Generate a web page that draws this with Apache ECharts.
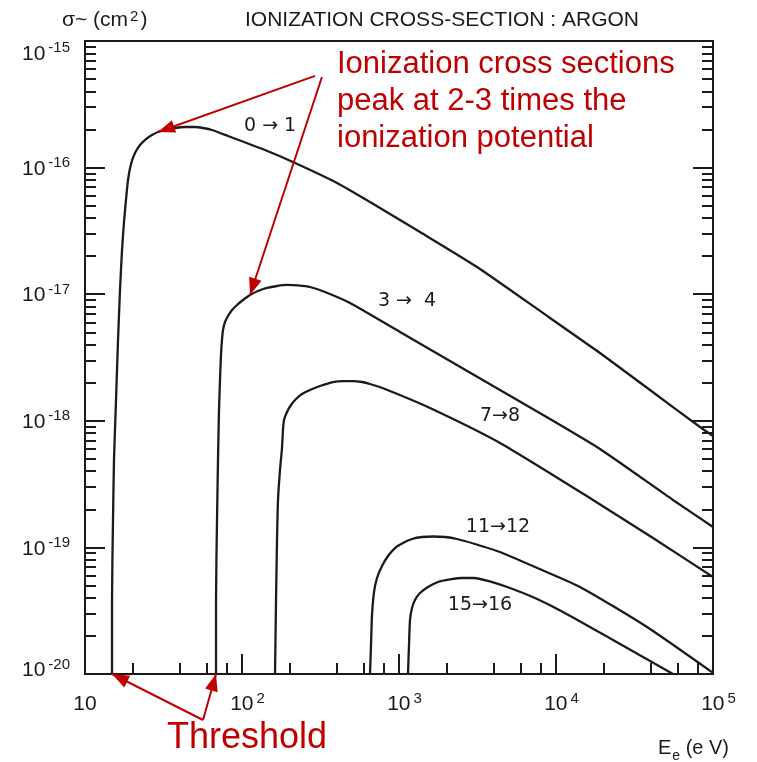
<!DOCTYPE html>
<html>
<head>
<meta charset="utf-8">
<script src="https://cdn.jsdelivr.net/npm/echarts@6/dist/echarts.min.js"></script>
<style>
  html, body { margin: 0; padding: 0; background: #ffffff; }
  #chart { width: 757px; height: 762px; }
</style>
</head>
<body>
<div id="chart"></div>
<script>
// Electron-impact ionization cross sections of argon ions, sigma (cm^2) vs electron energy E_e (eV)

// ---- data ----
const seriesNames = ['0 → 1', '3 →  4', '7→8', '11→12', '15→16'];

const ion0to1 = [
  [14.86, 1.0e-20], [14.86, 3.84e-20], [15.08, 1.65e-19], [15.30, 4.9e-19], [15.76, 1.46e-18],
  [16.23, 4.35e-18], [16.71, 1.08e-17], [17.21, 2.23e-17], [17.72, 3.72e-17], [18.24, 5.55e-17],
  [18.79, 7.98e-17], [19.63, 1.067e-16], [20.82, 1.304e-16], [22.40, 1.509e-16], [24.46, 1.682e-16],
  [26.72, 1.809e-16], [29.17, 1.910e-16], [32.81, 1.982e-16], [37.43, 2.055e-16], [43.35, 2.093e-16],
  [50.19, 2.093e-16], [56.44, 2.055e-16], [64.41, 1.982e-16], [81.4, 1.777e-16], [140, 1.377e-16],
  [211, 1.107e-16], [403, 7.56e-17], [757, 4.80e-17], [1361, 3.10e-17], [3140, 1.64e-17],
  [9160, 6.49e-18], [19070, 3.43e-18], [39700, 1.75e-18], [82640, 8.93e-19], [100000, 7.59e-19]
];

const ion3to4 = [
  [68.31, 1.0e-20], [68.31, 3.84e-20], [69.32, 1.65e-19], [70.33, 4.9e-19], [71.37, 1.217e-18],
  [72.43, 2.10e-18], [73.47, 3.31e-18], [74.57, 4.35e-18], [75.68, 5.22e-18], [77.93, 6.03e-18],
  [81.43, 6.73e-18], [86.4, 7.50e-18], [92.95, 8.22e-18], [101.5, 9.00e-18], [112.5, 9.86e-18],
  [126.5, 1.06e-17], [144.3, 1.12e-17], [167.1, 1.161e-17], [193.5, 1.183e-17], [227.4, 1.172e-17],
  [271.1, 1.14e-17], [337.9, 1.041e-17], [487.5, 8.52e-18], [1015, 5.03e-18], [2113, 2.97e-18],
  [4398, 1.75e-18], [9159, 1.033e-18], [19070, 5.99e-19], [55620, 2.37e-19], [100000, 1.449e-19]
];

const ion7to8 = [
  [162.3, 1.0e-20], [164.7, 3.84e-20], [167.1, 1.144e-19], [169.6, 2.37e-19], [174.6, 4.09e-19],
  [179.8, 6.10e-19], [182.4, 8.46e-19], [185.1, 1.015e-18], [193.5, 1.174e-18], [205.2, 1.333e-18],
  [220.8, 1.487e-18], [241.1, 1.628e-18], [271.1, 1.75e-18], [314, 1.883e-18], [379.8, 2.025e-18],
  [440, 2.06e-18], [509.3, 2.06e-18], [581.1, 2.025e-18], [653.6, 1.953e-18], [814.3, 1.783e-18],
  [1576, 1.262e-18], [4398, 6.68e-19], [17210, 2.37e-19], [41480, 1.186e-19], [100000, 5.84e-20]
];

const ion11to12 = [
  [653.6, 1.0e-20], [663.3, 1.695e-20], [673.1, 2.92e-20], [693.2, 4.44e-20], [724.4, 5.73e-20],
  [779.4, 7.13e-20], [851, 8.55e-20], [943, 9.89e-20], [1060, 1.083e-19], [1210, 1.165e-19],
  [1401, 1.208e-19], [1647, 1.219e-19], [1963, 1.208e-19], [2341, 1.165e-19], [3049, 1.064e-19],
  [4398, 9.2e-20], [7348, 7.0e-20], [14220, 4.87e-20], [37980, 2.35e-20], [100000, 1.02e-20]
];

const ion15to16 = [
  [1141, 1.0e-20], [1158, 1.695e-20], [1175, 2.67e-20], [1210, 3.32e-20], [1264, 3.84e-20],
  [1361, 4.36e-20], [1530, 4.87e-20], [1772, 5.33e-20], [2113, 5.58e-20], [2519, 5.73e-20],
  [3004, 5.73e-20], [3690, 5.43e-20], [5093, 4.78e-20], [7348, 3.98e-20], [11080, 3.09e-20],
  [23080, 1.856e-20], [55620, 1.0e-20]
];

const seriesData = [ion0to1, ion3to4, ion7to8, ion11to12, ion15to16];

// axis ranges and tick values
const xRange = [10, 1e5];
const yRange = [1e-20, 1e-15];
const xMinorTicks = [20, 40, 60, 80, 200, 400, 600, 800, 2000, 4000, 6000, 8000, 20000, 40000, 60000, 80000];
const yDecades = [1e-20, 1e-19, 1e-18, 1e-17, 1e-16];
const yMinorFactors = [2, 3, 4, 5, 6, 7, 8, 9];

// ---- annotation anchors (data units) ----
const curveLabelAt = [[151, 2.13e-16], [1125, 8.84e-18], [4400, 1.09e-18], [4270, 1.45e-19], [3280, 3.5e-20]];
const peakArrowFrom = [[292, 5.3e-16], [323, 5.2e-16]];
const peakArrowTo = [[29.17, 1.91e-16], [112.5, 9.86e-18]];
const thresholdArrowTo = [[ion0to1[0][0], yRange[0]], [ion3to4[0][0], yRange[0]]];

// ---- styles ----
const FONT = 'Liberation Sans';
const LABEL_FONT = 'DejaVu Sans';
const INK = '#1b1b1b';
const RED = '#c00000';

const yMinorTicks = [];
yDecades.forEach(d => yMinorFactors.forEach(f => yMinorTicks.push(+(f * d).toPrecision(3))));

const expOf = v => Math.round(Math.log10(v));
const tickLine = { color: INK, width: 2 };

const numRich = {
  b:  { fontFamily: FONT, fontSize: 21, color: INK, padding: [3, 0, 0, 0] },
  s:  { fontFamily: FONT, fontSize: 15, color: INK, padding: [0, 0, 0, 3], verticalAlign: 'top' },
  bt: { fontFamily: FONT, fontSize: 21, color: INK, padding: [26, 0, 0, 0] },
  st: { fontFamily: FONT, fontSize: 15, color: INK, padding: [23, 0, 0, 3], verticalAlign: 'top' },
  bb: { fontFamily: FONT, fontSize: 21, color: INK, padding: [3, 0, 10, 0] },
  p:  { fontFamily: FONT, fontSize: 15, width: 11 }
};

function logAxis(range, extra) {
  return Object.assign({
    type: 'log', logBase: 10, min: range[0], max: range[1],
    axisLine: { show: false },
    splitLine: { show: false },
    axisLabel: { show: false },
    axisTick: { show: true, inside: true, length: 20, lineStyle: tickLine }
  }, extra);
}

const chart = echarts.init(document.getElementById('chart'), null, { renderer: 'canvas' });

const series = seriesData.map((data, i) => ({
  name: seriesNames[i],
  type: 'line',
  data: data,
  xAxisIndex: 0,
  yAxisIndex: 0,
  showSymbol: false,
  smooth: 0.2,
  clip: false,
  silent: true,
  lineStyle: { color: INK, width: 2.3 },
  markPoint: {
    silent: true,
    symbol: 'circle',
    symbolSize: 1,
    itemStyle: { color: 'rgba(0,0,0,0)' },
    label: {
      show: true, position: 'inside', formatter: '{b}',
      fontFamily: LABEL_FONT, fontSize: 19, color: INK
    },
    data: [{ name: seriesNames[i], coord: curveLabelAt[i] }]
  }
}));

// red annotation arrows
series[0].markLine = {
  silent: true,
  symbol: ['none', 'triangle'],
  symbolSize: [13, 17],
  symbolOffset: [0, [0, 8.5]],
  label: { show: false },
  lineStyle: { color: RED, width: 2, type: 'solid' },
  itemStyle: { color: RED },
  emphasis: { disabled: true },
  data: [
    [{ coord: peakArrowFrom[0] }, { coord: peakArrowTo[0] }],
    [{ coord: peakArrowFrom[1] }, { coord: peakArrowTo[1] }],
    [{ x: 203, y: 720 }, { coord: thresholdArrowTo[0] }],
    [{ x: 203, y: 720 }, { coord: thresholdArrowTo[1] }]
  ]
};

chart.setOption({
  animation: false,
  backgroundColor: '#ffffff',
  grid: {
    left: 85, right: 44, top: 41, bottom: 88,
    show: true, borderColor: INK, borderWidth: 2, backgroundColor: 'transparent'
  },
  xAxis: [
    logAxis(xRange, {
      position: 'bottom',
      axisLabel: {
        show: true, margin: 17, showMinLabel: true, showMaxLabel: true,
        formatter: v => {
          const e = expOf(v);
          return e === 1 ? '{b|10}' : '{p| }{b|10}{s|' + e + '}';
        },
        rich: numRich
      }
    }),
    logAxis(xRange, {
      position: 'bottom',
      axisTick: { show: true, inside: true, length: 11, lineStyle: tickLine, customValues: xMinorTicks }
    })
  ],
  yAxis: [
    logAxis(yRange, {
      position: 'left',
      axisLabel: {
        show: true, margin: 63, align: 'left', showMinLabel: true, showMaxLabel: true,
        formatter: v => {
          const e = expOf(v);
          if (e === -15) return '{bt|10}{st|' + e + '}';
          if (e === -20) return '{bb|10}{s|' + e + '}';
          return '{b|10}{s|' + e + '}';
        },
        rich: numRich
      }
    }),
    logAxis(yRange, {
      position: 'left',
      axisTick: { show: true, inside: true, length: 11, lineStyle: tickLine, customValues: yMinorTicks }
    }),
    logAxis(yRange, { position: 'right' }),
    logAxis(yRange, {
      position: 'right',
      axisTick: { show: true, inside: true, length: 11, lineStyle: tickLine, customValues: yMinorTicks }
    })
  ],
  graphic: [
    {
      type: 'text', x: 62, y: 20, silent: true,
      style: {
        text: '{a|σ~ (cm}{s|2}{a|)}',
        verticalAlign: 'middle', align: 'left',
        rich: {
          a: { fontFamily: FONT, fontSize: 21, fill: INK },
          s: { fontFamily: FONT, fontSize: 15, fill: INK, verticalAlign: 'top', padding: [0, 2, 0, 2] }
        }
      }
    },
    {
      type: 'text', x: 442, y: 20, silent: true,
      style: {
        text: 'IONIZATION CROSS-SECTION : ARGON',
        fontFamily: FONT, fontSize: 21, fill: INK, align: 'center', verticalAlign: 'middle'
      }
    },
    {
      type: 'text', x: 658, y: 748, silent: true,
      style: {
        text: '{a|E}{u|e}{a| (e V)}',
        verticalAlign: 'middle', align: 'left',
        rich: {
          a: { fontFamily: FONT, fontSize: 20, fill: INK },
          u: { fontFamily: FONT, fontSize: 14, fill: INK, verticalAlign: 'bottom', padding: [16, 0, 0, 1] }
        }
      }
    },
    {
      type: 'text', x: 337, y: 46, silent: true,
      style: {
        text: 'Ionization cross sections\npeak at 2-3 times the\nionization potential',
        fontFamily: FONT, fontSize: 31, lineHeight: 37, fill: RED,
        align: 'left', verticalAlign: 'top'
      }
    },
    {
      type: 'text', x: 167, y: 738, silent: true,
      style: {
        text: 'Threshold',
        fontFamily: FONT, fontSize: 36, fill: RED, align: 'left', verticalAlign: 'middle'
      }
    }
  ],
  series: series
});
</script>
</body>
</html>
